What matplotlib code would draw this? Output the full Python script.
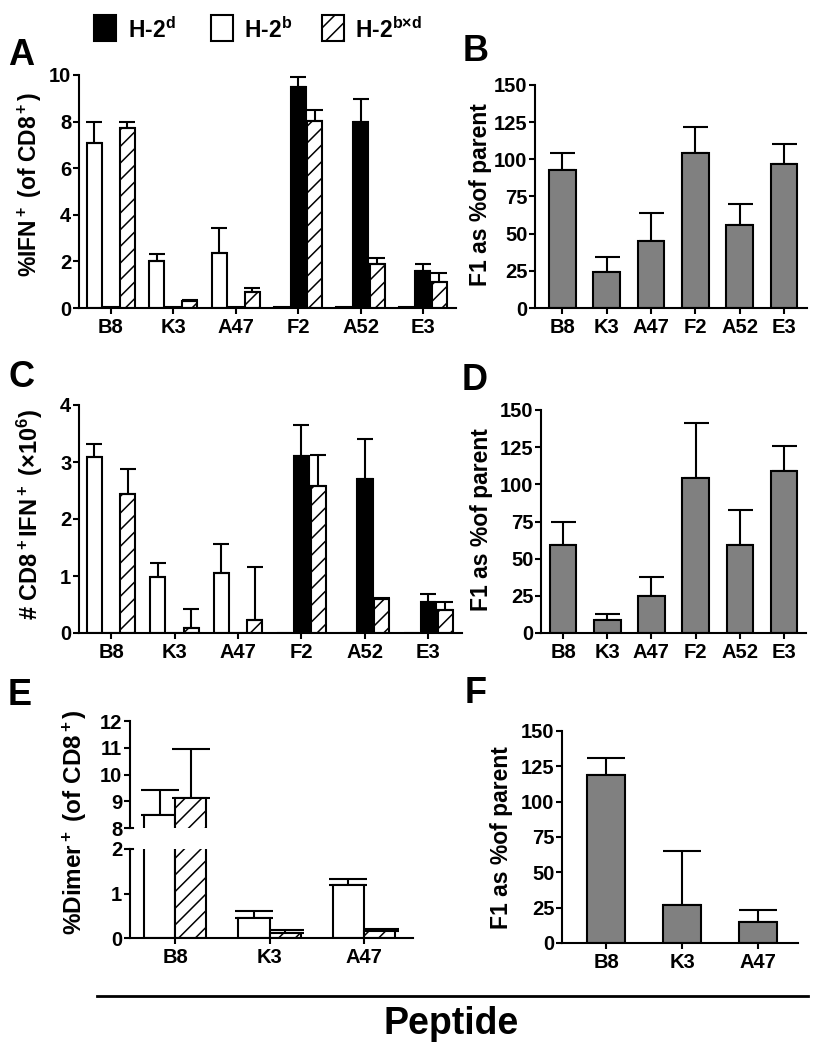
import numpy as np
import matplotlib.pyplot as plt
from matplotlib.patches import Rectangle

plt.rcParams['font.family'] = ['Liberation Sans', 'DejaVu Sans']
plt.rcParams['font.weight'] = 'bold'
plt.rcParams['axes.labelweight'] = 'bold'
plt.rcParams['mathtext.fontset'] = 'custom'
plt.rcParams['mathtext.rm'] = 'Liberation Sans:bold'
plt.rcParams['mathtext.it'] = 'Liberation Sans:bold'
plt.rcParams['mathtext.bf'] = 'Liberation Sans:bold'
plt.rcParams['mathtext.default'] = 'rm'
plt.rcParams['hatch.linewidth'] = 1.1
plt.rcParams['axes.linewidth'] = 1.5

peptides = ['B8', 'K3', 'A47', 'F2', 'A52', 'E3']
peptides_e = ['B8', 'K3', 'A47']
strains = ['H-2$^{d}$', 'H-2$^{b}$', 'H-2$^{b{\\times}d}$']

# A: % IFN+ (of CD8+)
ifn_b = [7.1, 2.0, 2.35, 0.03, 0.03, 0.03]
ifn_b_err = [0.9, 0.3, 1.1, 0, 0, 0]
ifn_d = [0.03, 0.03, 0.03, 9.5, 8.0, 1.6]
ifn_d_err = [0, 0, 0, 0.4, 0.95, 0.28]
ifn_bxd = [7.72, 0.28, 0.68, 8.03, 1.9, 1.13]
ifn_bxd_err = [0.28, 0.07, 0.18, 0.45, 0.25, 0.38]

# B: F1 as % of parent (IFN %)
pctA = [93, 24, 45, 104, 56, 97]
pctA_err = [11, 10, 19, 18, 14, 13]

# C: # CD8+IFN+ (x10^6)
cnt_b = [3.09, 0.98, 1.06, 0, 0, 0]
cnt_b_err = [0.22, 0.25, 0.51, 0, 0, 0]
cnt_d = [0, 0, 0, 3.11, 2.70, 0.55]
cnt_d_err = [0, 0, 0, 0.54, 0.70, 0.14]
cnt_bxd = [2.43, 0.08, 0.23, 2.58, 0.60, 0.41]
cnt_bxd_err = [0.44, 0.34, 0.93, 0.54, 0.01, 0.14]

# D: F1 as % of parent (numbers)
pctC = [59, 9, 25, 104, 59, 109]
pctC_err = [16, 4, 13, 37, 24, 17]

# E: % Dimer+ (of CD8+)
dim_b = [8.49, 0.46, 1.18]
dim_b_err = [0.93, 0.15, 0.15]
dim_bxd = [9.13, 0.11, 0.16]
dim_bxd_err = [1.82, 0.08, 0.04]

# F: F1 as % of parent (dimer)
pctE = [119, 27, 15]
pctE_err = [12, 38, 8]

W, H = 820, 1050
fig = plt.figure(figsize=(8.2, 10.5), dpi=100)


def px_axes(left, right, top, bottom):
    ax = fig.add_axes([left / W, 1 - bottom / H, (right - left) / W, (bottom - top) / H])
    ax.px = (left, right, top, bottom)
    return ax


def place_ylabel(ax, right_px, center_px=None):
    # right edge of the rotated label, in figure pixels
    l, r, t, b = ax.px
    yc = 0.5 if center_px is None else (b - center_px) / (b - t)
    ax.yaxis.set_label_coords((right_px - l) / (r - l), yc)


def style(ax):
    ax.spines['top'].set_visible(False)
    ax.spines['right'].set_visible(False)
    ax.tick_params(axis='both', direction='out', length=4.5, width=1.5, labelsize=14.5)
    ax.tick_params(axis='y', pad=1)
    ax.tick_params(axis='x', pad=2.5)
    for lab in ax.get_xticklabels() + ax.get_yticklabels():
        lab.set_fontweight('bold')


def grouped(ax, b, be, d, de, bxd, bxde, w=0.24, off=0.265, cap=6):
    x = np.arange(len(b))
    kw = dict(edgecolor='black', linewidth=1.5, width=w, zorder=2)
    ekw = dict(fmt='none', ecolor='black', elinewidth=1.5, capsize=cap, capthick=1.5, zorder=3)
    ax.bar(x - off, b, color='white', **kw)
    ax.bar(x, d, color='black', **kw)
    ax.bar(x + off, bxd, color='white', hatch='//', **kw)
    for xs, v, e in [(x - off, b, be), (x, d, de), (x + off, bxd, bxde)]:
        v = np.array(v)
        e = np.array(e)
        m = e > 0
        ax.errorbar(xs[m], v[m], yerr=[np.zeros(m.sum()), e[m]], **ekw)
    ax.set_xticks(x)
    ax.set_xticklabels(peptides)


def gray(ax, vals, errs, labels, w=0.6, cap=9):
    x = np.arange(len(vals))
    ax.bar(x, vals, width=w, color='#808080', edgecolor='black', linewidth=1.5, zorder=2)
    ax.errorbar(x, vals, yerr=[np.zeros(len(vals)), errs], fmt='none', ecolor='black',
                elinewidth=1.5, capsize=cap, capthick=1.5, zorder=1)
    ax.set_xticks(x)
    ax.set_xticklabels(labels)
    ax.set_ylim(0, 150)
    ax.set_yticks([0, 25, 50, 75, 100, 125, 150])
    ax.set_ylabel('F1 as %of parent', fontsize=16.5)
    style(ax)


# A
axA = px_axes(79, 456, 75, 308)
grouped(axA, ifn_b, ifn_b_err, ifn_d, ifn_d_err, ifn_bxd, ifn_bxd_err)
axA.set_xlim(-0.51, 5.53)
axA.set_ylim(0, 10)
axA.set_yticks([0, 2, 4, 6, 8, 10])
axA.set_ylabel('%IFN$^+$ (of CD8$^+$)', fontsize=16.5)
style(axA)
place_ylabel(axA, 44, 184)

# B
axB = px_axes(535, 807, 85, 308)
gray(axB, pctA, pctA_err, peptides)
axB.set_xlim(-0.62, 5.52)
place_ylabel(axB, 492, 195)

# C
axC = px_axes(79, 462, 405, 633)
grouped(axC, cnt_b, cnt_b_err, cnt_d, cnt_d_err, cnt_bxd, cnt_bxd_err)
axC.set_xlim(-0.505, 5.53)
axC.set_ylim(0, 4)
axC.set_yticks([0, 1, 2, 3, 4])
axC.set_ylabel('# CD8$^+$IFN$^+$ (${\\times}$10$^6$)', fontsize=17)
style(axC)
place_ylabel(axC, 45, 514)

# D
axD = px_axes(541, 806, 410, 633)
gray(axD, pctC, pctC_err, peptides)
axD.set_xlim(-0.5, 5.5)
place_ylabel(axD, 493, 520)

# E, broken axis
axE1 = px_axes(130, 413, 721, 828)
axE2 = px_axes(130, 413, 849, 938)
xe = np.arange(len(dim_b))
for ax in (axE1, axE2):
    kw = dict(edgecolor='black', linewidth=1.5, width=0.33, zorder=2)
    ax.bar(xe - 0.165, dim_b, color='white', **kw)
    ax.bar(xe + 0.165, dim_bxd, color='white', hatch='//', **kw)
    ekw = dict(fmt='none', ecolor='black', elinewidth=1.5, capsize=14, capthick=1.5, zorder=1)
    ax.errorbar(xe - 0.165, dim_b, yerr=[np.zeros(3), dim_b_err], **ekw)
    ax.errorbar(xe + 0.165, dim_bxd, yerr=[np.zeros(3), dim_bxd_err], **ekw)
    ax.set_xlim(-0.48, 2.52)
    style(ax)
axE1.set_ylim(8, 12)
axE1.set_yticks([8, 9, 10, 11, 12])
axE1.spines['bottom'].set_visible(False)
axE1.set_xticks([])
axE2.set_ylim(0, 2)
axE2.set_yticks([0, 1, 2])
axE2.set_xticks(xe)
axE2.set_xticklabels(peptides_e)
for lab in axE2.get_xticklabels():
    lab.set_fontweight('bold')
# break marks
axE1.plot([0, 0.012], [0, 0], transform=axE1.transAxes, color='black', lw=1.5, clip_on=False)
axE2.plot([0, 0.012], [1, 1], transform=axE2.transAxes, color='black', lw=1.5, clip_on=False)
fig.text(89 / W, 1 - 822 / H, '%Dimer$^+$ (of CD8$^+$)', rotation=90, fontsize=17.5,
         fontweight='bold', ha='right', va='center')

# F
axF = px_axes(562, 798, 731, 943)
gray(axF, pctE, pctE_err, peptides_e, w=0.5, cap=14)
axF.set_xlim(-0.58, 2.52)
place_ylabel(axF, 513, 838)

# panel letters
for letter, x, y in [('A', 8, 65), ('B', 463, 61), ('C', 8, 387), ('D', 462, 390),
                     ('E', 8, 705), ('F', 465, 703)]:
    fig.text(x / W, 1 - y / H, letter, fontsize=26, fontweight='bold', ha='left', va='baseline')

# legend
legend_style = [dict(facecolor='black'), dict(facecolor='white'), dict(facecolor='white', hatch='//')]
for x0, tx, st, lab in zip([94, 211, 322], [128, 244, 355], legend_style, strains):
    fig.add_artist(Rectangle((x0 / W, 1 - 41 / H), 22 / W, 26 / H, transform=fig.transFigure,
                             edgecolor='black', linewidth=1.5, **st))
    fig.text(tx / W, 1 - 38 / H, lab, fontsize=16.5, fontweight='bold', ha='left', va='baseline')

# Peptide bar
fig.add_artist(plt.Line2D([97 / W, 808 / W], [1 - 996 / H, 1 - 996 / H], color='black', lw=2))
fig.text(451 / W, 1 - 1034 / H, 'Peptide', fontsize=27, fontweight='bold', ha='center', va='baseline')

fig.savefig('out.png', dpi=100)
